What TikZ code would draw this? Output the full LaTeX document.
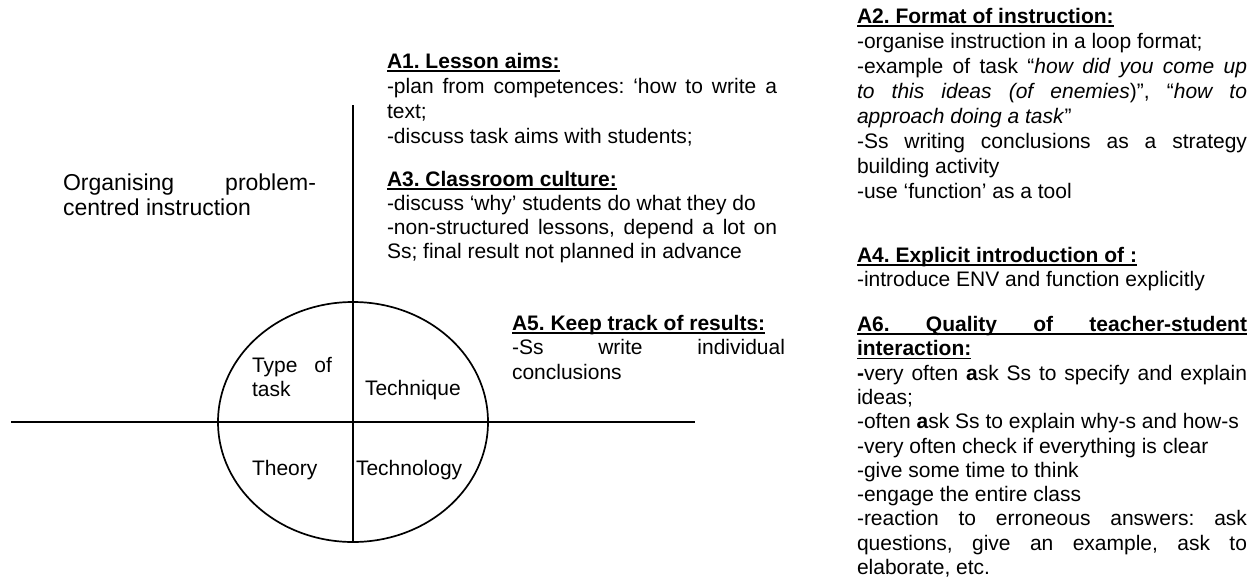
\documentclass[tikz,border=0pt]{standalone}
\usepackage{fontspec}
\setmainfont{Liberation Sans}
\usetikzlibrary{shapes.geometric}
\frenchspacing
\newsavebox\ulbox
\newcommand{\ul}[1]{\leavevmode\sbox\ulbox{#1}\rlap{\rule[-3.6pt]{\wd\ulbox}{1.8pt}}\usebox\ulbox}
\newcommand{\hd}[1]{\ul{\textbf{#1}}}
\tikzset{
  txt/.style={anchor=base west, inner sep=0pt, outer sep=0pt, text width=#1,
    align=justify, font=\fontsize{21}{24.3}\selectfont},
  txtb/.style={txt=#1, font=\fontsize{21}{25}\selectfont},
  lbl/.style={anchor=base west, inner sep=0pt, outer sep=0pt, text width=#1,
    align=justify, font=\fontsize{23}{25.5}\selectfont},
  ln/.style={line width=1.7pt, black},
  oval/.style={draw, ellipse, line width=1.7pt, inner sep=0pt, outer sep=0pt,
    minimum width=270pt, minimum height=240pt}
}
\begin{document}
\begin{tikzpicture}[x=1pt, y=-1pt]
\useasboundingbox[fill=white] (0,0) rectangle (1252,576);
\hyphenpenalty=10000 \exhyphenpenalty=10000
% axes and oval
\node[oval] (circ) at (353,422) {};
\coordinate (vtop) at (353,105);
\coordinate (hl) at (11,422);
\coordinate (hr) at (695,422);
\draw[ln] (vtop) -- (circ.south);
\draw[ln] (hl) -- (hr);
% label
\node[lbl=253pt] (lab) at (63,190) {Organising problem-\linebreak centred instruction};
% quadrants
\node[txt=80pt] (q1) at (252,372.5) {Type of\linebreak task};
\node[txt=110pt] (q2) at (365,395.5) {Technique};
\node[txt=80pt] (q3) at (252,475.5) {Theory};
\node[txt=120pt] (q4) at (356,475.5) {Technology};
% middle blocks
\node[txtb=390pt] (a1) at (387,68) {\hd{A1. Lesson aims:}\par
-plan from competences: ‘how to write a\linebreak text;\par
-discuss task aims with students;};
\node[txt=390pt] (a3) at (387,186) {\hd{A3. Classroom culture:}\par
-discuss ‘why’ students do what they do\par
-non-structured lessons, depend a lot on\linebreak Ss; final result not planned in advance};
\node[txt=273pt] (a5) at (512,330.5) {\hd{A5. Keep track of results:}\par
-Ss write individual\linebreak conclusions};
% right blocks
\node[txtb=390pt] (a2) at (857,23.5) {\hd{A2. Format of instruction:}\par
-organise instruction in a loop format;\par
-example of task “\textit{how did you come up}\linebreak \textit{to this ideas (of enemies})”, “\textit{how to}\linebreak \textit{approach doing a task}”\par
-Ss writing conclusions as a strategy\linebreak building activity\par
-use ‘function’ as a tool};
\node[txt=390pt] (a4) at (857,262.5) {\hd{A4. Explicit introduction of :}\par
-introduce ENV and function explicitly};
\node[txt=390pt] (a6) at (857,331.5) {\ul{\hbox to 390pt{\bfseries A6.\hfill Quality\hfill of\hfill teacher-student}}\par
\hd{interaction:}\par
\textbf{-}very often \textbf{a}sk Ss to specify and explain\linebreak ideas;\par
-often \textbf{a}sk Ss to explain why-s and how-s\par
-very often check if everything is clear\par
-give some time to think\par
-engage the entire class\par
-reaction to erroneous answers: ask\linebreak questions, give an example, ask to\linebreak elaborate, etc.};
\end{tikzpicture}
\end{document}
